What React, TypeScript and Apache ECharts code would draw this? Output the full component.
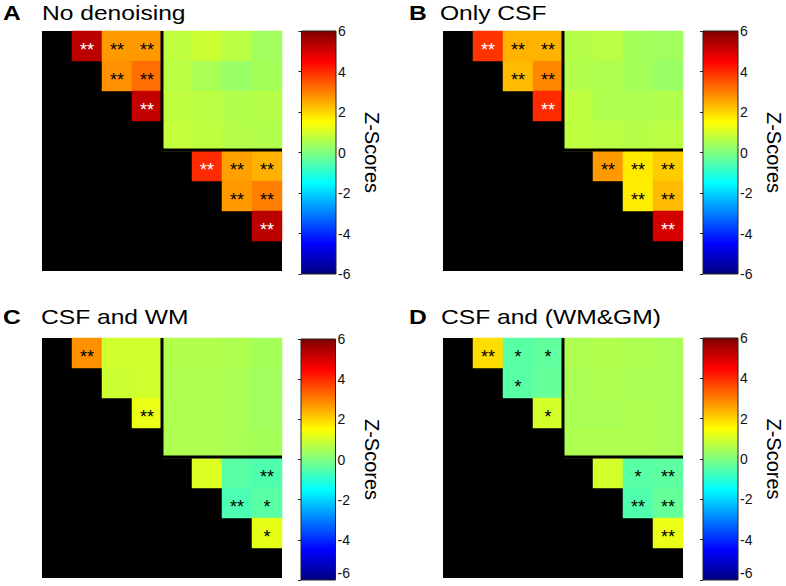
import React, { useEffect, useRef } from 'react';
import * as echarts from 'echarts';

// ---------- data ----------
const nodes = ['1', '2', '3', '4', '5', '6', '7', '8'];
const cbTicks = [-6, 6];
const n = null;

const zA = [
  [n, 5.3, 2.7, 2.7, 0.75, 0.9, 0.7, 0.4],
  [n, n, 2.8, 3.2, 0.7, 0.5, 0.3, 0.45],
  [n, n, n, 5.2, 0.75, 0.7, 0.6, 0.65],
  [n, n, n, n, 0.8, 0.75, 0.65, 0.6],
  [n, n, n, n, n, 4.0, 2.6, 2.4],
  [n, n, n, n, n, n, 2.7, 3.0],
  [n, n, n, n, n, n, n, 5.3],
  [n, n, n, n, n, n, n, n],
];
const sigA = [
  ['', '**', '**', '**', '', '', '', ''],
  ['', '', '**', '**', '', '', '', ''],
  ['', '', '', '**', '', '', '', ''],
  ['', '', '', '', '', '', '', ''],
  ['', '', '', '', '', '**', '**', '**'],
  ['', '', '', '', '', '', '**', '**'],
  ['', '', '', '', '', '', '', '**'],
  ['', '', '', '', '', '', '', ''],
];

const zB = [
  [n, 3.9, 2.4, 2.4, 0.65, 0.7, 0.45, 0.4],
  [n, n, 2.3, 2.9, 0.6, 0.55, 0.45, 0.3],
  [n, n, n, 4.0, 0.75, 0.55, 0.55, 0.6],
  [n, n, n, n, 0.75, 0.7, 0.65, 0.7],
  [n, n, n, n, n, 2.7, 1.75, 2.1],
  [n, n, n, n, n, n, 1.7, 2.3],
  [n, n, n, n, n, n, n, 5.0],
  [n, n, n, n, n, n, n, n],
];
const sigB = sigA;

const zC = [
  [n, 2.8, 0.95, 0.95, 0.6, 0.6, 0.55, 0.45],
  [n, n, 0.9, 0.95, 0.55, 0.55, 0.5, 0.4],
  [n, n, n, 1.25, 0.55, 0.55, 0.5, 0.4],
  [n, n, n, n, 0.55, 0.55, 0.5, 0.45],
  [n, n, n, n, n, 1.1, -0.45, -0.55],
  [n, n, n, n, n, n, -0.6, -0.45],
  [n, n, n, n, n, n, n, 1.2],
  [n, n, n, n, n, n, n, n],
];
const sigC = [
  ['', '**', '', '', '', '', '', ''],
  ['', '', '', '', '', '', '', ''],
  ['', '', '', '**', '', '', '', ''],
  ['', '', '', '', '', '', '', ''],
  ['', '', '', '', '', '', '', '**'],
  ['', '', '', '', '', '', '**', '*'],
  ['', '', '', '', '', '', '', '*'],
  ['', '', '', '', '', '', '', ''],
];

const zD = [
  [n, 1.9, -0.45, -0.35, 0.55, 0.6, 0.55, 0.5],
  [n, n, -0.45, -0.3, 0.5, 0.55, 0.5, 0.5],
  [n, n, n, 1.0, 0.5, 0.5, 0.55, 0.5],
  [n, n, n, n, 0.55, 0.55, 0.55, 0.5],
  [n, n, n, n, n, 1.0, -0.45, -0.4],
  [n, n, n, n, n, n, -0.55, -0.3],
  [n, n, n, n, n, n, n, 1.25],
  [n, n, n, n, n, n, n, n],
];
const sigD = [
  ['', '**', '*', '*', '', '', '', ''],
  ['', '', '*', '', '', '', '', ''],
  ['', '', '', '*', '', '', '', ''],
  ['', '', '', '', '', '', '', ''],
  ['', '', '', '', '', '', '*', '**'],
  ['', '', '', '', '', '', '**', '**'],
  ['', '', '', '', '', '', '', '**'],
  ['', '', '', '', '', '', '', ''],
];

// block corner (column, row) of the outlined off-diagonal block
const blockCorner = [4, 3];

const letters = ['A', 'B', 'C', 'D'];
const titles = ['No denoising', 'Only CSF', 'CSF and WM', 'CSF and (WM&GM)'];

const jet = ['#00007F', '#0000FF', '#007FFF', '#00FFFF', '#7FFF7F', '#FFFF00', '#FF7F00', '#FF0000', '#7F0000'];

// ---------- layout ----------
const FONT = 'Liberation Sans, Arial, Helvetica, sans-serif';
const layout = [
  { heat: { left: 42, top: 31, width: 240, height: 240 }, cb: { left: 301.5, top: 31, width: 34.5, height: 243 }, lx: 3, tx: 42, ty: 13.5, bottomAlign: false },
  { heat: { left: 443, top: 31, width: 240, height: 240 }, cb: { left: 703, top: 31, width: 35, height: 243 }, lx: 409, tx: 440, ty: 13.5, bottomAlign: false },
  { heat: { left: 42, top: 338, width: 240, height: 240 }, cb: { left: 301, top: 339, width: 34.5, height: 241 }, lx: 3, tx: 41, ty: 317, bottomAlign: true },
  { heat: { left: 443, top: 338, width: 240, height: 240 }, cb: { left: 703, top: 338, width: 35, height: 242 }, lx: 409, tx: 441, ty: 317, bottomAlign: true },
];

function buildOption() {
  const panels = [
    { z: zA, sig: sigA },
    { z: zB, sig: sigB },
    { z: zC, sig: sigC },
    { z: zD, sig: sigD },
  ];
  const grid: any[] = [];
  const xAxis: any[] = [];
  const yAxis: any[] = [];
  const series: any[] = [];
  const heatIdx: number[] = [];
  const graphic: any[] = [];

  const gradStops = jet
    .slice()
    .reverse()
    .map((c, i) => ({ offset: i / (jet.length - 1), color: c }));

  panels.forEach((p, i) => {
    const L = layout[i];
    const gh = 2 * i;
    const gc = 2 * i + 1;
    grid.push({
      ...L.heat,
      show: true,
      backgroundColor: '#000',
      borderWidth: 0,
      containLabel: false,
      outerBoundsMode: 'none',
    });
    grid.push({
      ...L.cb,
      show: false,
      containLabel: false,
      outerBoundsMode: 'none',
    });
    xAxis.push({ gridIndex: gh, type: 'category', data: nodes, show: false });
    yAxis.push({ gridIndex: gh, type: 'category', data: nodes, inverse: true, show: false });
    xAxis.push({ gridIndex: gc, type: 'value', min: 0, max: 1, show: false });
    const axisLabel: any = { fontSize: 14, color: '#111', margin: 2, fontFamily: FONT };
    if (L.bottomAlign) axisLabel.verticalAlignMinLabel = 'bottom';
    yAxis.push({
      gridIndex: gc,
      type: 'value',
      min: cbTicks[0],
      max: cbTicks[1],
      interval: 2,
      position: 'right',
      z: 10,
      axisLine: { show: false },
      axisTick: { show: true, inside: true, length: 3, lineStyle: { color: '#222', width: 1 } },
      axisLabel,
      splitLine: { show: false },
      name: 'Z-Scores',
      nameLocation: 'middle',
      nameRotate: -90,
      nameGap: 26,
      nameTextStyle: { fontSize: 20, color: '#000', fontFamily: FONT },
    });

    const data: any[] = [];
    p.z.forEach((row, r) => {
      row.forEach((v, c) => {
        if (v === null) return;
        data.push({
          value: [c, r, v],
          label: { color: v > 3.5 ? '#fff' : '#000' },
        });
      });
    });
    heatIdx.push(series.length);
    const sig = p.sig;
    series.push({
      type: 'heatmap',
      xAxisIndex: gh,
      yAxisIndex: gh,
      data,
      label: {
        show: true,
        fontSize: 18,
        fontFamily: FONT,
        offset: [0, 4],
        formatter: (prm: any) => sig[prm.value[1]][prm.value[0]],
      },
      emphasis: { disabled: true },
      z: 2,
    });
    series.push({
      type: 'custom',
      xAxisIndex: gh,
      yAxisIndex: gh,
      data: [blockCorner],
      z: 5,
      silent: true,
      renderItem: (params: any, api: any) => {
        const c = api.coord([api.value(0), api.value(1)]);
        const s = api.size([1, 1]);
        const cs = params.coordSys;
        const xl = c[0] - s[0] / 2;
        const yb = c[1] + s[1] / 2 - 1;
        return {
          type: 'polyline',
          shape: { points: [[xl, cs.y], [xl, yb], [cs.x + cs.width, yb]] },
          style: { stroke: '#000', lineWidth: 3, fill: null },
        };
      },
    });
    series.push({
      type: 'custom',
      xAxisIndex: gc,
      yAxisIndex: gc,
      data: [[0, cbTicks[0], cbTicks[1]]],
      z: 2,
      silent: true,
      renderItem: (params: any, api: any) => {
        const cs = params.coordSys;
        const lo = api.coord([0, api.value(1)]);
        const hi = api.coord([0, api.value(2)]);
        return {
          type: 'rect',
          shape: { x: cs.x, y: hi[1], width: cs.width, height: lo[1] - hi[1] },
          style: {
            fill: new echarts.graphic.LinearGradient(0, 0, 0, 1, gradStops),
            stroke: '#222',
            lineWidth: 1,
          },
        };
      },
    });

    graphic.push({
      type: 'text',
      x: L.lx,
      y: L.ty,
      scaleX: 1.2,
      style: { text: letters[i], fontSize: 20.5, fontWeight: 'bold', fontFamily: FONT, fill: '#000', verticalAlign: 'middle' },
    });
    graphic.push({
      type: 'text',
      x: L.tx,
      y: L.ty,
      scaleX: 1.2,
      style: { text: titles[i], fontSize: 20.5, fontFamily: FONT, fill: '#000', verticalAlign: 'middle' },
    });
  });

  return {
    animation: false,
    backgroundColor: '#fff',
    textStyle: { fontFamily: FONT },
    grid,
    xAxis,
    yAxis,
    visualMap: {
      type: 'continuous',
      show: false,
      min: cbTicks[0],
      max: cbTicks[1],
      dimension: 2,
      seriesIndex: heatIdx,
      inRange: { color: jet },
    },
    series,
    graphic,
  };
}

export default function App() {
  const ref = useRef<HTMLDivElement>(null);
  useEffect(() => {
    const chart = echarts.init(ref.current!, null, { renderer: 'svg' });
    chart.setOption(buildOption() as any);
    return () => chart.dispose();
  }, []);
  return <div ref={ref} style={{ position: 'fixed', left: 0, top: 0, width: 786, height: 586 }} />;
}
